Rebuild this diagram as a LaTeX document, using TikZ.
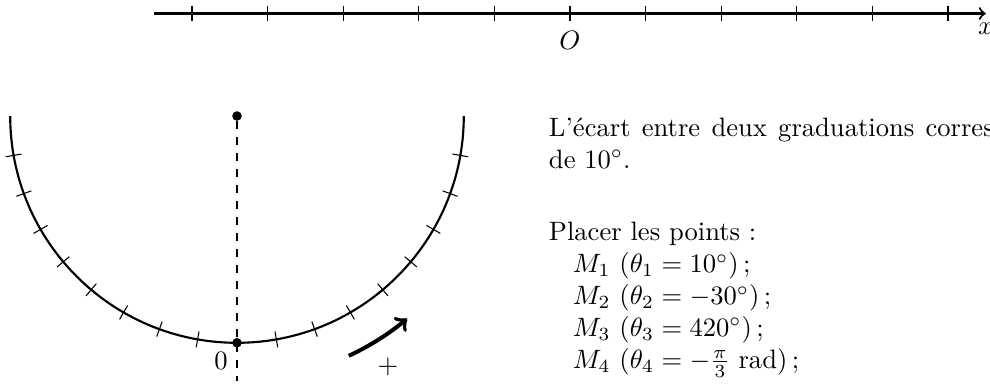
\documentclass[tikz,border=0pt]{standalone}
\usepackage{fontspec}
\tikzset{
  axisline/.style={thick},
  tickmark/.style={thin},
  dotnode/.style={circle,fill,inner sep=0pt,minimum size=3.6pt},
  txt/.style={anchor=base west,inner sep=0pt},
  bigarrow/.style={line width=1.5pt,->},
}
\begin{document}
\begin{tikzpicture}
\useasboundingbox (-7.540,-4.888) rectangle (5.556,0.1786);
\clip (-7.540,-4.888) rectangle (5.556,0.1786);
% number line
\coordinate (xs) at (-5.5,0);
\coordinate (xe) at (5.5,0);
\draw[axisline,->] (xs) -- (xe) node[below] (xl) {$x$};
\foreach \i in {-5,...,5} \draw[tickmark] (\i,3pt) -- (\i,-3pt);
\coordinate (Ot) at (0,-3pt);
\node[below] (Olab) at (Ot) {$O$};
% circle
\node[dotnode] (C) at (-4.405,-1.356) {};
\node[dotnode] (B) at (-4.405,-4.356) {};
\coordinate (D) at (-4.405,-4.856);
\draw[axisline] (C.center) ++(180:3) arc[start angle=180,end angle=360,radius=3];
\foreach \a in {190,200,...,260,280,290,...,350}
  \draw[tickmark,shift={(-4.405,-1.356)}] (\a:2.8945) -- (\a:3.1055);
\draw[dashed] (C) -- (D);
\node[below left] (zero) at (B.center) {$0$};
\draw[bigarrow] ([shift={(-65:3.5)}]C.center) arc[start angle=-65,end angle=-50,radius=3.5];
\node (plus) at (-2.407,-4.676) {$+$};
% text
\node[txt] (l1) at (-0.285,-1.630) {\spaceskip=4.25pt L'écart entre deux graduations correspond};
\node[txt] (l2) at (-0.285,-2.052) {de $10^\circ$.};
\node[txt] (l3) at (-0.285,-3.009) {Placer les points :};
\node[txt] (m1) at (-0.285,-3.431) {\hspace*{9pt}$M_1$ $(\theta_1 = 10^\circ)\,;$};
\node[txt] (m2) at (-0.285,-3.853) {\hspace*{9pt}$M_2$ $(\theta_2 = -30^\circ)\,;$};
\node[txt] (m3) at (-0.285,-4.274) {\hspace*{9pt}$M_3$ $(\theta_3 = 420^\circ)\,;$};
\node[txt] (m4) at (-0.285,-4.696) {\hspace*{9pt}$M_4$ $(\theta_4 = -\frac{\pi}{3}\ \mathrm{rad})\,;$};
\end{tikzpicture}
\end{document}
